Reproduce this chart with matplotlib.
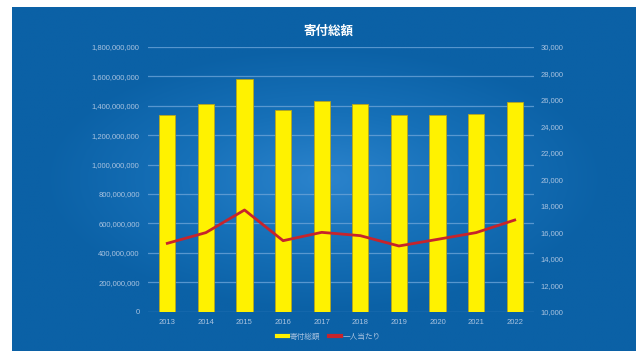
import numpy as np
import matplotlib
matplotlib.use("Agg")
import matplotlib.pyplot as plt
from matplotlib.lines import Line2D
from matplotlib.ticker import FuncFormatter, MultipleLocator
from matplotlib.colors import LinearSegmentedColormap

plt.rcParams['font.family'] = ['Liberation Sans', 'Noto Sans CJK JP', 'DejaVu Sans']

years = ['2013', '2014', '2015', '2016', '2017', '2018', '2019', '2020', '2021', '2022']
total = [1337e6, 1414e6, 1580e6, 1373e6, 1435e6, 1412e6, 1335e6, 1335e6, 1346e6, 1424e6]
per_person = [15160, 15970, 17680, 15360, 15990, 15740, 14960, 15460, 15970, 16920]

title = '寄付総額'
bar_label = '寄付総額'
line_label = '一人当たり'

W, H = 638, 351
fig = plt.figure(figsize=(W / 100, H / 100), dpi=100, facecolor='white')

# blue panel with a soft radial gradient
bg = fig.add_axes([12 / W, 0, 624 / W, 344 / H])
bg.set_axis_off()
gx, gy = np.meshgrid(np.linspace(-1, 1, 300), np.linspace(-1, 1, 170))
r = np.clip(np.sqrt((gx * 1.1) ** 2 + (gy * 1.3) ** 2), 0, 1)
cmap = LinearSegmentedColormap.from_list('bg', ['#2b83cc', '#1670b8', '#0b61a6'])
bg.imshow(r, cmap=cmap, aspect='auto', extent=[0, 1, 0, 1], interpolation='bilinear')

tick_col = '#a9c3e0'
ax = fig.add_axes([148 / W, 1 - 311.6 / H, 386 / W, 264.6 / H])
ax.patch.set_alpha(0)
x = np.arange(len(years))
ax.bar(x, total, width=0.42, color='#fff200', edgecolor='#b8a61c', linewidth=0.6, zorder=2)
ax.set_xlim(-0.5, len(years) - 0.5)
ax.set_ylim(0, 1.8e9)
ax.yaxis.set_major_locator(MultipleLocator(2e8))
ax.yaxis.set_major_formatter(FuncFormatter(lambda v, p: f'{int(v):,}'))
ax.set_xticks(x)
ax.set_xticklabels(years)
ax.grid(axis='y', color='#6aa3d8', linewidth=0.9, alpha=0.8, zorder=0)
ax.tick_params(axis='both', length=0, labelsize=5.5, labelcolor=tick_col)
ax.tick_params(axis='y', pad=6)
ax.tick_params(axis='x', pad=5)
for s in ax.spines.values():
    s.set_visible(False)

ax2 = ax.twinx()
ax2.plot(x, per_person, color='#c6242c', linewidth=2.0, zorder=3)
ax2.set_ylim(10000, 30000)
ax2.yaxis.set_major_locator(MultipleLocator(2000))
ax2.yaxis.set_major_formatter(FuncFormatter(lambda v, p: f'{int(v):,}'))
ax2.tick_params(axis='y', length=0, labelsize=5.5, labelcolor=tick_col, pad=5)
for s in ax2.spines.values():
    s.set_visible(False)

fig.text(328 / W, 1 - 31.5 / H, title, color='white', fontsize=9, fontweight='bold',
         ha='center', va='center', family=['Noto Sans CJK JP', 'DejaVu Sans'])

handles = [Line2D([0], [0], color='#fff200', linewidth=3),
           Line2D([0], [0], color='#c6242c', linewidth=3)]
leg = fig.legend(handles, [bar_label, line_label], loc='center',
                 bbox_to_anchor=(328.5 / W, 1 - 336.7 / H), ncol=2, frameon=False,
                 fontsize=5.5, handlelength=1.5, handletextpad=0.2, columnspacing=1.2,
                 prop={'family': ['Noto Sans CJK JP', 'DejaVu Sans'], 'size': 5.5})
for t in leg.get_texts():
    t.set_color(tick_col)

fig.savefig('out.png', dpi=100, facecolor='white')
